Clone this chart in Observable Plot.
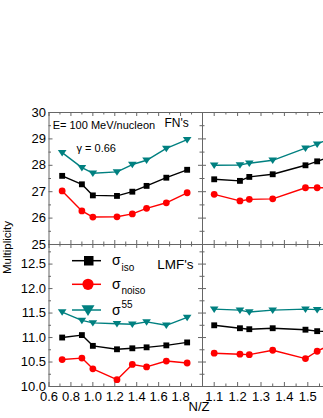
<!DOCTYPE html>
<html><head><meta charset="utf-8">
<script src="https://cdn.jsdelivr.net/npm/d3@7"></script>
<script src="https://cdn.jsdelivr.net/npm/@observablehq/plot@0.6"></script>
<style>
html,body{margin:0;padding:0;background:#fff;overflow:hidden;}
#wrap{position:relative;width:323px;height:418px;overflow:hidden;font-family:"Liberation Sans",Arial,sans-serif;}
#wrap > svg{position:absolute;}
</style></head><body><div id="wrap"></div>
<script>
// ---- data ----
const nzLeft  = [0.72, 0.90, 1.00, 1.22, 1.36, 1.49, 1.67, 1.86];
const nzRight = [1.10, 1.21, 1.25, 1.35, 1.49, 1.54, 1.60];

// FN's (top panels)
const fnIsoLeft    = [27.60, 27.28, 26.86, 26.84, 27.00, 27.22, 27.53, 27.83];
const fnNoisoLeft  = [27.03, 26.27, 26.04, 26.05, 26.16, 26.37, 26.58, 26.96];
const fn55Left     = [28.48, 27.91, 27.70, 27.75, 28.03, 28.19, 28.64, 28.97];
const fnIsoRight   = [27.47, 27.41, 27.56, 27.66, 28.00, 28.15, 28.35];
const fnNoisoRight = [26.90, 26.65, 26.71, 26.73, 27.15, 27.15, 27.15];
const fn55Right    = [28.00, 28.01, 28.08, 28.19, 28.65, 28.80, 29.05];

// LMF's (bottom panels)
const lmfIsoLeft    = [11.00, 11.05, 10.83, 10.76, 10.78, 10.80, 10.84, 10.90];
const lmfNoisoLeft  = [10.55, 10.58, 10.36, 10.14, 10.45, 10.40, 10.52, 10.48];
const lmf55Left     = [11.52, 11.35, 11.30, 11.28, 11.27, 11.32, 11.25, 11.41];
const lmfIsoRight   = [11.25, 11.19, 11.17, 11.19, 11.16, 11.13, 11.12];
const lmfNoisoRight = [10.68, 10.66, 10.65, 10.74, 10.57, 10.72, 10.86];
const lmf55Right    = [11.58, 11.56, 11.52, 11.56, 11.58, 11.57, 11.58];

// tick values
const xMajorLeft   = [0.6, 0.8, 1.0, 1.2, 1.4, 1.6, 1.8, 2.0];
const xMinorLeft   = [0.7, 0.9, 1.1, 1.3, 1.5, 1.7, 1.9];
const xLabelsLeft  = [0.6, 0.8, 1.0, 1.2, 1.4, 1.6, 1.8];
const xMajorRight  = [1.1, 1.2, 1.3, 1.4, 1.5, 1.6];
const xMinorRight  = [1.15, 1.25, 1.35, 1.45, 1.55];
const xLabelsRight = [1.1, 1.2, 1.3, 1.4, 1.5];
const yMajorTop = [25, 26, 27, 28, 29, 30];
const yMinorTop = [25.5, 26.5, 27.5, 28.5, 29.5];
const yMajorBot = [10.0, 10.5, 11.0, 11.5, 12.0, 12.5];
const yMinorBot = [10.25, 10.75, 11.25, 11.75, 12.25, 12.75];

const COLORS = {iso: "#000000", noiso: "#ff0000", s55: "#008080"};
const AXIS = "#666";

const triDown = {
  draw(ctx, size) {
    const r = Math.sqrt(size / Math.PI);
    const w = r * 1.2;
    ctx.moveTo(-w, -r * 0.75);
    ctx.lineTo(w, -r * 0.75);
    ctx.lineTo(0, r * 1.05);
    ctx.closePath();
  }
};

const rows = (xs, ys) => xs.map((x, i) => ({x, y: ys[i]}));

function panel(o) {
  const fw = o.width - o.mL - o.mR;
  const fh = o.height - o.mT - o.mB;
  const sets = [
    {d: rows(o.nz, o.s55), c: COLORS.s55, sym: triDown, r: 3.6},
    {d: rows(o.nz, o.iso), c: COLORS.iso, sym: "square", r: 3.3},
    {d: rows(o.nz, o.noiso), c: COLORS.noiso, sym: "circle", r: 3.4}
  ];
  const marks = [
    Plot.frame({stroke: AXIS}),
    Plot.ruleX(o.xMajor, {stroke: AXIS, insetTop: fh - 4}),
    Plot.ruleX(o.xMinor, {stroke: AXIS, insetTop: fh - 2.5}),
    Plot.ruleX(o.xMajor, {stroke: AXIS, insetBottom: fh - 4}),
    Plot.ruleX(o.xMinor, {stroke: AXIS, insetBottom: fh - 2.5}),
    Plot.ruleY(o.yMajor, {stroke: AXIS, insetRight: fw - 4}),
    Plot.ruleY(o.yMinor, {stroke: AXIS, insetRight: fw - 2.5})
  ];
  if (o.rightTicks) {
    marks.push(Plot.ruleY(o.yMajor, {stroke: AXIS, insetLeft: fw - 4}));
    marks.push(Plot.ruleY(o.yMinor, {stroke: AXIS, insetLeft: fw - 2.5}));
  }
  for (const s of sets) {
    marks.push(Plot.line(s.d, {x: "x", y: "y", stroke: s.c, strokeWidth: 1.4}));
  }
  for (const s of sets) {
    marks.push(Plot.dot(s.d, {x: "x", y: "y", symbol: s.sym, fill: s.c, stroke: "none", r: s.r}));
  }
  const svg = Plot.plot({
    width: o.width, height: o.height,
    marginLeft: o.mL, marginRight: o.mR, marginTop: o.mT, marginBottom: o.mB,
    style: {background: "transparent", fontFamily: "'Liberation Sans', Arial, sans-serif", fontSize: "13px", color: "#000", overflow: "visible"},
    x: {domain: o.xDomain, label: null, axis: o.xLabels ? "bottom" : null, ticks: o.xLabels || [], tickSize: 0, tickPadding: 5, tickFormat: d3.format(".1f")},
    y: {domain: o.yDomain, label: null, axis: o.yLabels ? "left" : null, ticks: o.yLabels || [], tickSize: 0, tickPadding: 3, tickFormat: o.yFormat},
    marks
  });
  svg.style.left = o.left + "px";
  svg.style.top = o.top + "px";
  return svg;
}

const wrap = document.getElementById("wrap");

wrap.appendChild(panel({left: 0, top: 100, width: 206, height: 148, mL: 48.5, mR: 4, mT: 12, mB: 4,
  nz: nzLeft, iso: fnIsoLeft, noiso: fnNoisoLeft, s55: fn55Left,
  xDomain: [0.6, 2.0], yDomain: [25, 30], xMajor: xMajorLeft, xMinor: xMinorLeft,
  yMajor: yMajorTop, yMinor: yMinorTop, yLabels: yMajorTop, yFormat: d3.format("d"), rightTicks: true}));

wrap.appendChild(panel({left: 0, top: 240, width: 206, height: 178, mL: 48.5, mR: 4, mT: 4, mB: 32,
  nz: nzLeft, iso: lmfIsoLeft, noiso: lmfNoisoLeft, s55: lmf55Left,
  xDomain: [0.6, 2.0], yDomain: [10, 12.9], xMajor: xMajorLeft, xMinor: xMinorLeft, xLabels: xLabelsLeft,
  yMajor: yMajorBot, yMinor: yMinorBot, yLabels: yMajorBot, yFormat: d3.format(".1f"), rightTicks: true}));

wrap.appendChild(panel({left: 198, top: 100, width: 144, height: 148, mL: 4, mR: 2, mT: 12, mB: 4,
  nz: nzRight, iso: fnIsoRight, noiso: fnNoisoRight, s55: fn55Right,
  xDomain: [1.05, 1.6397], yDomain: [25, 30], xMajor: xMajorRight, xMinor: xMinorRight,
  yMajor: yMajorTop, yMinor: yMinorTop, rightTicks: false}));

wrap.appendChild(panel({left: 198, top: 240, width: 144, height: 178, mL: 4, mR: 2, mT: 4, mB: 32,
  nz: nzRight, iso: lmfIsoRight, noiso: lmfNoisoRight, s55: lmf55Right,
  xDomain: [1.05, 1.6397], yDomain: [10, 12.9], xMajor: xMajorRight, xMinor: xMinorRight, xLabels: xLabelsRight,
  yMajor: yMajorBot, yMinor: yMinorBot, rightTicks: false}));

// annotations, legend and axis titles
const ns = "http://www.w3.org/2000/svg";
const ov = document.createElementNS(ns, "svg");
ov.setAttribute("width", 323); ov.setAttribute("height", 418);
ov.style.left = "0px"; ov.style.top = "0px";
ov.setAttribute("font-family", "'Liberation Sans', Arial, sans-serif");
ov.innerHTML = `
  <text x="52.7" y="129.3" font-size="11">E= 100 MeV/nucleon</text>
  <text x="76.5" y="151.8" font-size="11">γ = 0.66</text>
  <text x="164.5" y="127.3" font-size="12">FN's</text>
  <text x="157.3" y="269" font-size="13.5">LMF's</text>
  <text x="199" y="411" font-size="13" text-anchor="middle">N/Z</text>
  <text transform="translate(11,247.5) rotate(-90)" font-size="11.5" text-anchor="middle">Multiplicity</text>
  <line x1="72" x2="101" y1="260.7" y2="260.7" stroke="${COLORS.iso}" stroke-width="1.5"/>
  <rect x="84" y="256" width="9.5" height="9.5" fill="${COLORS.iso}"/>
  <text x="112" y="265" font-size="14">σ<tspan x="121.5" y="270.5" font-size="10">iso</tspan></text>
  <line x1="72" x2="101" y1="284.3" y2="284.3" stroke="${COLORS.noiso}" stroke-width="1.5"/>
  <circle cx="88" cy="284.3" r="5.6" fill="${COLORS.noiso}"/>
  <text x="112" y="289.3" font-size="14">σ<tspan x="121.5" y="294" font-size="10">noiso</tspan></text>
  <line x1="72" x2="101" y1="310" y2="310" stroke="${COLORS.s55}" stroke-width="1.5"/>
  <path d="M81.5,305.3 L94.5,305.3 L88,316 Z" fill="${COLORS.s55}"/>
  <text x="112" y="315" font-size="14">σ<tspan x="121.5" y="308.3" font-size="10">55</tspan></text>
`;
wrap.appendChild(ov);
</script>
</body></html>
